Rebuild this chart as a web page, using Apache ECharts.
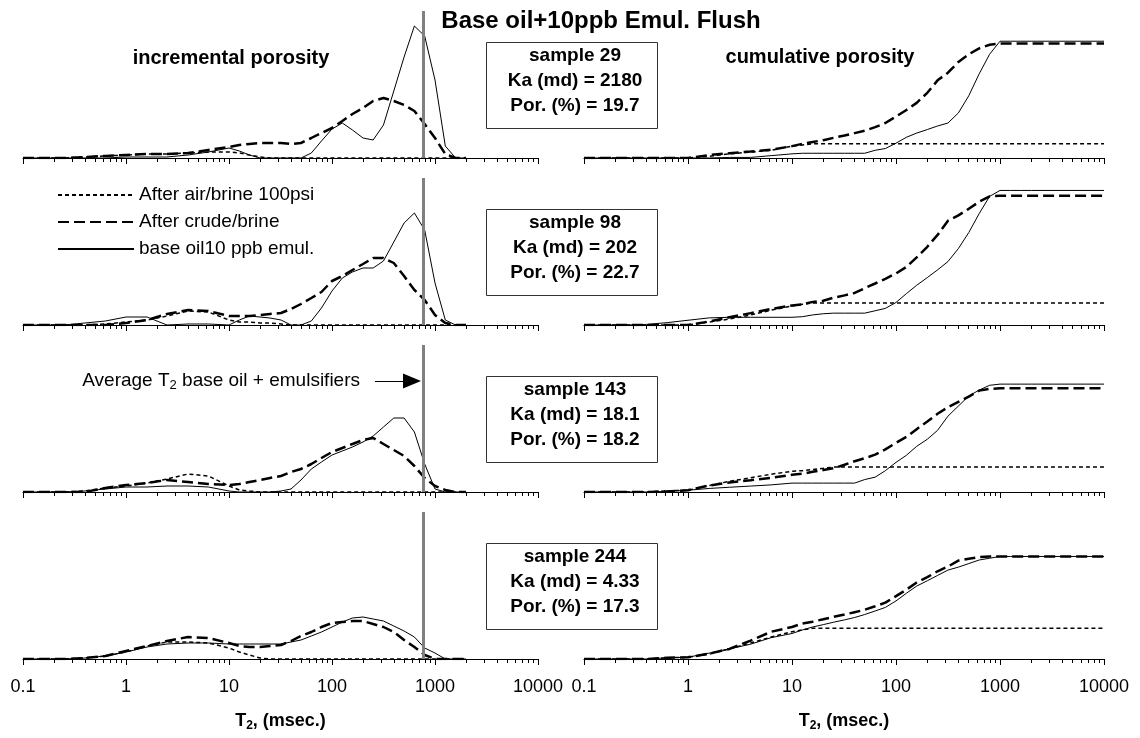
<!DOCTYPE html>
<html>
<head>
<meta charset="utf-8">
<title>Base oil+10ppb Emul. Flush</title>
<script src="https://cdn.jsdelivr.net/npm/echarts@6/dist/echarts.min.js"></script>
<style>
  html, body { margin: 0; padding: 0; background: #fff; }
  #chart { width: 1140px; height: 738px; }
</style>
</head>
<body>
<div id="chart"></div>
<script>
// T2 bins (msec.) shared by every curve
const T2 = [0.1, 0.16, 0.25, 0.4, 0.63, 1, 1.6, 2.5, 4, 6.3, 10, 12.6, 15.8, 20, 25, 32, 40, 50, 63, 79, 100, 126, 158, 200, 251, 316, 398, 501, 631, 794, 1000, 1259, 1585, 2000, 10000];

const MAJOR_TICKS = [0.1, 1, 10, 100, 1000, 10000];
const TICK_LABELS = ['0.1', '1', '10', '100', '1000', '10000'];
const MINOR_TICKS = [0.2, 0.3, 0.4, 0.5, 0.6, 0.7, 0.8, 0.9,
  2, 3, 4, 5, 6, 7, 8, 9, 20, 30, 40, 50, 60, 70, 80, 90,
  200, 300, 400, 500, 600, 700, 800, 900, 2000, 3000, 4000, 5000, 6000, 7000, 8000, 9000];

const SERIES_NAMES = ['After air/brine 100psi', 'After crude/brine', 'base oil10 ppb emul.'];
const SAMPLE_IDS = ['29', '98', '143', '244'];
const KA_MD = ['2180', '202', '18.1', '4.33'];
const POROSITY = ['19.7', '22.7', '18.2', '17.3'];

// average T2 of base oil + emulsifiers (msec.)
const T2_AVG = 770;

// incremental porosity (relative amplitude), null = no point
const inc29Air   = [0,0,0,1,2,3,4,4,5,6, 6,5,3,1,0,0,0,0,0,0, 0,0,0,0,0,0,0,0,0,0, 0,0,0,0,null];
const inc29Crude = [0,0,0,1,2,3,4,4,5,8, 11,13,14,15,15,15,14,15,20,25, 30,37,44,50,57,60,57,53,47,34, 20,4,0,0,null];
const inc29Base  = [0,0,0,0,0,1,1,1,3,6, 10,7,3,0,0,0,0,0,5,17, 29,35,28,20,18,33,67,101,132,122, 78,12,0,0,null];

const inc98Air   = [0,0,0,0,1,3,5,9,14,13, 5,3,3,2,2,1,0,0,0,0, 0,0,0,0,0,0,0,0,0,0, 0,0,0,0,null];
const inc98Crude = [0,0,0,0,0,2,5,11,15,14, 9,9,9,10,11,12,16,21,27,33, 44,49,55,61,67,67,62,49,35,25, 10,2,0,0,null];
const inc98Base  = [0,0,0,2,4,8,8,0,1,1, 0,5,9,8,7,5,0,0,4,17, 34,47,53,57,57,64,83,102,112,95, 42,5,0,0,null];

const inc143Air   = [0,0,0,1,4,6,9,13,18,16, 6,2,1,0,0,0,0,0,0,0, 0,0,0,0,0,0,0,0,0,0, 0,0,0,0,null];
const inc143Crude = [0,0,0,0,4,7,9,12,10,8, 7,8,10,12,14,16,20,23,28,34, 40,44,48,52,54,48,42,36,26,14, 6,2,0,0,null];
const inc143Base  = [0,0,0,1,3,5,5,6,6,5, 1,0,0,0,0,1,3,12,23,30, 37,41,45,50,56,65,74,74,60,28, 3,0,0,0,null];

const inc244Air   = [0,0,0,1,3,7,13,17,17,16, 11,7,4,1,0,0,0,0,0,0, 0,0,0,0,0,0,0,0,0,0, 0,0,0,0,null];
const inc244Crude = [0,0,0,1,3,8,13,18,22,21, 16,13,12,12,13,14,18,23,27,32, 36,37,38,38,35,32,27,19,12,4, 0,0,0,0,null];
const inc244Base  = [0,0,0,1,3,7,12,15,16,16, 15,15,15,15,15,15,17,19,23,27, 32,37,41,42,40,38,33,28,22,11, 6,0,0,0,null];

// cumulative porosity (%)
const cum29Air   = [0,0,0,0,0,0,0.3,0.7,1.0,1.3, 2.0,2.2,2.4,2.4,2.4,2.4,2.4,2.4,2.4,2.4, 2.4,2.4,2.4,2.4,2.4,2.4,2.4,2.4,2.4,2.4, 2.4,2.4,2.4,2.4,2.4];
const cum29Crude = [0,0,0,0,0,0,0.5,0.8,1.1,1.4, 2.0,2.4,2.7,3.0,3.4,3.8,4.2,4.6,5.2,5.9, 7.0,8.1,9.3,11.0,13.1,14.4,16.2,17.5,18.5,19.1, 19.3,19.3,19.3,19.3,19.3];
const cum29Base  = [0,0,0,0,0,0,0,0.1,0.1,0.4, 0.7,0.8,0.8,0.8,0.8,0.8,0.8,0.8,1.3,1.6, 2.5,3.5,4.2,4.8,5.4,5.9,7.6,10.5,14.2,17.5, 19.7,19.7,19.7,19.7,19.7];

const cum98Air   = [0,0,0,0,0,0,0.5,1.0,1.7,2.5, 3.2,3.5,3.7,3.7,3.7,3.7,3.7,3.7,3.7,3.7, 3.7,3.7,3.7,3.7,3.7,3.7,3.7,3.7,3.7,3.7, 3.7,3.7,3.7,3.7,3.7];
const cum98Crude = [0,0,0,0,0,0,0.6,1.3,2.0,2.7, 3.3,3.5,3.9,4.1,4.6,5.0,5.4,6.2,7.0,7.8, 8.7,9.8,11.4,13.2,15.2,17.6,18.5,19.6,20.8,21.7, 21.8,21.8,21.8,21.8,21.8];
const cum98Base  = [0,0,0,0.1,0.4,0.8,1.2,1.3,1.3,1.3, 1.3,1.4,1.7,1.9,2.0,2.0,2.0,2.0,2.4,2.8, 3.8,5.3,6.7,8.0,9.3,10.7,12.9,15.6,18.8,21.7, 22.7,22.7,22.7,22.7,22.7];

const cum143Air   = [0,0,0,0,0.2,0.3,1.1,1.8,2.4,3.0, 3.5,3.6,3.8,4.0,4.2,4.2,4.2,4.2,4.2,4.2, 4.2,4.2,4.2,4.2,4.2,4.2,4.2,4.2,4.2,4.2, 4.2,4.2,4.2,4.2,4.2];
const cum143Crude = [0,0,0,0,0.1,0.3,1.1,1.6,2.0,2.4, 2.9,3.1,3.4,3.7,4.0,4.6,5.2,5.7,6.3,7.2, 8.3,9.3,10.6,11.9,13.2,14.3,15.2,16.1,17.1,17.4, 17.5,17.5,17.5,17.5,17.5];
const cum143Base  = [0,0,0,0,0.1,0.3,0.6,0.8,1.0,1.2, 1.5,1.5,1.5,1.5,1.5,1.5,1.5,2.1,2.5,3.6, 5.0,6.2,7.7,8.9,10.4,12.8,14.5,16.2,17.2,18.0, 18.2,18.2,18.2,18.2,18.2];

const cum244Air   = [0,0,0,0,0.2,0.3,0.8,1.7,2.7,3.7, 4.6,4.9,5.2,5.2,5.2,5.2,5.2,5.2,5.2,5.2, 5.2,5.2,5.2,5.2,5.2,5.2,5.2,5.2,5.2,5.2, 5.2,5.2,5.2,5.2,5.2];
const cum244Crude = [0,0,0,0,0.2,0.3,0.9,1.7,3.1,4.6, 5.4,6.0,6.3,6.7,7.1,7.5,7.9,8.3,8.9,9.5, 10.6,11.7,12.9,13.8,14.8,15.6,16.6,16.9,17.2,17.3, 17.3,17.3,17.3,17.3,17.3];
const cum244Base  = [0,0,0,0,0.2,0.3,1.0,1.7,2.5,3.6, 4.3,4.9,5.4,5.8,6.2,6.6,7.0,7.5,8.1,8.7, 9.8,11.1,12.3,13.2,14.1,15.0,15.5,16.1,16.7,17.0, 17.3,17.3,17.3,17.3,17.3];

const INCREMENTAL = [
  [inc29Air, inc29Crude, inc29Base],
  [inc98Air, inc98Crude, inc98Base],
  [inc143Air, inc143Crude, inc143Base],
  [inc244Air, inc244Crude, inc244Base]
];
const CUMULATIVE = [
  [cum29Air, cum29Crude, cum29Base],
  [cum98Air, cum98Crude, cum98Base],
  [cum143Air, cum143Crude, cum143Base],
  [cum244Air, cum244Crude, cum244Base]
];

/* ===============================
   LAYOUT / STYLES
   =============================== */
const FONT = '"Liberation Sans", Arial, sans-serif';
const BASELINES = [158, 325, 492, 659];
const PLOT_H = 147;
const INC_MAX = 147;
const CUM_MAX = 24.8;
const LINE_STYLES = [
  { color: '#000', width: 1.5, type: [4, 3] },
  { color: '#000', width: 2.5, type: [11, 5] },
  { color: '#000', width: 1, type: 'solid' }
];
// arrow of the annotation, in data units of the row-3 incremental panel
const ARROW_Y = 111;
const ARROW_FROM = 261;
const ARROW_TO = 598;

function tickLabel(v) {
  const i = MAJOR_TICKS.findIndex(m => Math.abs(Math.log10(m) - Math.log10(v)) < 1e-6);
  return i >= 0 ? TICK_LABELS[i] : '';
}

const grids = [], xAxes = [], yAxes = [], series = [];

BASELINES.forEach((base, r) => {
  [0, 1].forEach(c => {
    const g = r * 2 + c;
    const bottomRow = r === BASELINES.length - 1;

    grids.push({
      left: c ? 584 : 23,
      top: base - PLOT_H,
      width: c ? 520 : 515,
      height: PLOT_H
    });

    // main axis: decades
    xAxes.push({
      type: 'log', logBase: 10, gridIndex: g, min: 0.1, max: 10000,
      position: 'bottom',
      axisLine: { show: true, onZero: false, lineStyle: { color: '#000', width: 1 } },
      axisTick: { show: true, inside: false, length: 6, lineStyle: { color: '#000', width: 1 } },
      splitLine: { show: false },
      axisLabel: {
        show: bottomRow, margin: 19, color: '#000',
        fontSize: 18, fontFamily: FONT, formatter: tickLabel
      },
      name: bottomRow ? '{t|T}{s|2}{t|, (msec.)}' : '',
      nameLocation: 'middle',
      nameGap: 51,
      nameTextStyle: {
        rich: {
          t: { fontSize: 18, fontWeight: 'bold', fontFamily: FONT, color: '#000', lineHeight: 22 },
          s: { fontSize: 12, fontWeight: 'bold', fontFamily: FONT, color: '#000', verticalAlign: 'bottom' }
        }
      }
    });
    // second axis: minor ticks 2..9 of each decade
    xAxes.push({
      type: 'log', logBase: 10, gridIndex: g, min: 0.1, max: 10000,
      position: 'bottom',
      axisLine: { show: false },
      axisLabel: { show: false },
      splitLine: { show: false },
      axisTick: { show: true, inside: false, length: 4, customValues: MINOR_TICKS, lineStyle: { color: '#000', width: 1 } }
    });

    yAxes.push({ type: 'value', gridIndex: g, min: 0, max: c ? CUM_MAX : INC_MAX, show: false });

    const curves = c ? CUMULATIVE[r] : INCREMENTAL[r];
    curves.forEach((vals, k) => {
      const s = {
        type: 'line',
        name: SERIES_NAMES[k],
        xAxisIndex: 2 * g,
        yAxisIndex: g,
        data: T2.map((t, i) => [t, vals[i]]).filter(p => p[1] !== null),
        symbol: 'none',
        showSymbol: false,
        silent: true,
        color: '#000',
        lineStyle: LINE_STYLES[k],
        z: 2 + k,
        animation: false
      };
      if (!c && k === 2) {
        const lines = [
          { xAxis: T2_AVG, lineStyle: { color: '#808080', width: 3, type: 'solid' } }
        ];
        if (r === 2) {
          lines.push([
            { coord: [ARROW_FROM, ARROW_Y], symbol: 'none', lineStyle: { color: '#000', width: 1, type: 'solid' } },
            { coord: [ARROW_TO, ARROW_Y], symbol: 'triangle', symbolSize: [15, 18], lineStyle: { color: '#000', width: 1, type: 'solid' } }
          ]);
        }
        s.markLine = {
          silent: true,
          symbol: ['none', 'none'],
          label: { show: false },
          itemStyle: { color: '#000' },
          animation: false,
          data: lines
        };
      }
      series.push(s);
    });
  });
});

/* ===============================
   TEXTS AND SAMPLE BOXES
   =============================== */
const graphics = [
  {
    type: 'text', x: 601, y: 21,
    style: { text: 'Base oil+10ppb Emul. Flush', font: 'bold 24px ' + FONT, textAlign: 'center', textVerticalAlign: 'middle', fill: '#000' }
  },
  {
    type: 'text', x: 231, y: 58,
    style: { text: 'incremental porosity', font: 'bold 20px ' + FONT, textAlign: 'center', textVerticalAlign: 'middle', fill: '#000' }
  },
  {
    type: 'text', x: 820, y: 57,
    style: { text: 'cumulative porosity', font: 'bold 20px ' + FONT, textAlign: 'center', textVerticalAlign: 'middle', fill: '#000' }
  },
  {
    type: 'text', x: 360, y: 381,
    style: {
      text: '{n|Average T}{s|2}{n| base oil + emulsifiers}',
      textAlign: 'right', textVerticalAlign: 'middle',
      rich: {
        n: { fontSize: 19, fontFamily: FONT, fill: '#000', lineHeight: 22 },
        s: { fontSize: 13, fontFamily: FONT, fill: '#000', verticalAlign: 'bottom' }
      }
    }
  }
];

BASELINES.forEach((base, r) => {
  const top = base - 116;
  graphics.push({
    type: 'rect', z: 10,
    shape: { x: 486.5, y: top + 0.5, width: 171, height: 86 },
    style: { fill: '#fff', stroke: '#333', lineWidth: 1 }
  });
  graphics.push({
    type: 'text', z: 11, x: 575, y: top + 39,
    style: {
      text: 'sample ' + SAMPLE_IDS[r] + '\nKa (md) = ' + KA_MD[r] + '\nPor. (%) = ' + POROSITY[r],
      font: 'bold 19px ' + FONT, lineHeight: 25,
      textAlign: 'center', textVerticalAlign: 'middle', fill: '#000'
    }
  });
});

const chart = echarts.init(document.getElementById('chart'));
chart.setOption({
  animation: false,
  backgroundColor: '#fff',
  legend: {
    orient: 'vertical',
    left: 52,
    top: 180,
    itemWidth: 76,
    itemHeight: 14,
    itemGap: 7,
    selectedMode: false,
    data: SERIES_NAMES,
    itemStyle: { opacity: 0 },
    textStyle: { fontSize: 19, fontFamily: FONT, color: '#000', lineHeight: 20 }
  },
  grid: grids,
  xAxis: xAxes,
  yAxis: yAxes,
  series: series,
  graphic: graphics
});
</script>
</body>
</html>
